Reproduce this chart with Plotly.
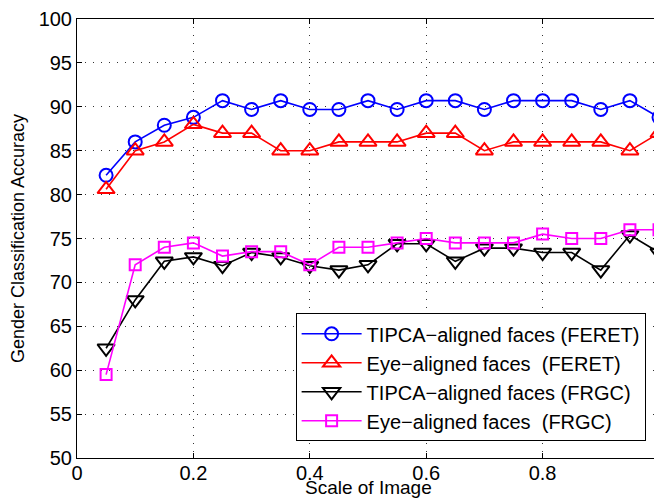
import plotly.graph_objects as go

scale = [0.05, 0.10, 0.15, 0.20, 0.25, 0.30, 0.35, 0.40, 0.45, 0.50,
         0.55, 0.60, 0.65, 0.70, 0.75, 0.80, 0.85, 0.90, 0.95, 1.00]

tipca_feret = [82.2, 86.0, 87.9, 88.8, 90.7, 89.7, 90.7, 89.7, 89.7, 90.7,
               89.7, 90.7, 90.7, 89.7, 90.7, 90.7, 90.7, 89.7, 90.7, 88.8]
eye_feret = [80.6, 85.0, 86.0, 88.0, 87.0, 87.0, 85.0, 85.0, 86.0, 86.0,
             86.0, 87.0, 87.0, 85.0, 86.0, 86.0, 86.0, 86.0, 85.0, 87.0]
tipca_frgc = [62.5, 68.0, 72.4, 72.9, 71.9, 73.4, 72.9, 71.9, 71.4, 72.0,
              74.4, 74.4, 72.4, 73.9, 73.9, 73.4, 73.4, 71.4, 75.4, 73.4]
eye_frgc = [59.5, 72.0, 74.0, 74.5, 73.0, 73.5, 73.5, 72.0, 74.0, 74.0,
            74.5, 75.0, 74.5, 74.5, 74.5, 75.5, 75.0, 75.0, 76.0, 76.0]

names = ["TIPCA\u2212aligned faces (FERET)",
         "Eye\u2212aligned faces  (FERET)",
         "TIPCA\u2212aligned faces (FRGC)",
         "Eye\u2212aligned faces  (FRGC)"]
colors = ["#0000ff", "#ff0000", "#000000", "#ff00ff"]
symbols = ["circle-open", "triangle-up-open", "triangle-down-open", "square-open"]
sizes = [13, 15, 15, 11]

FONT = "Liberation Sans, Arial, sans-serif"

fig = go.Figure()
for ys, nm, c, s, sz in zip([tipca_feret, eye_feret, tipca_frgc, eye_frgc],
                            names, colors, symbols, sizes):
    fig.add_trace(go.Scatter(
        x=scale, y=ys, name=nm, mode="lines+markers",
        line=dict(color=c, width=1.6),
        marker=dict(symbol=s, size=sz, color=c, line=dict(color=c, width=2)),
        cliponaxis=False,
    ))

axis_common = dict(
    showline=True, linecolor="black", linewidth=1, mirror="ticks",
    ticks="inside", ticklen=5, tickcolor="black",
    showgrid=True, gridcolor="#333333", griddash="1px,7px", gridwidth=1,
    zeroline=False, automargin=False, ticklabeloverflow="allow",
    tickfont=dict(family=FONT, size=20, color="black"),
)

fig.update_layout(
    width=654, height=491,
    margin=dict(l=69, r=3, t=11, b=41),
    paper_bgcolor="white", plot_bgcolor="white",
    font=dict(family=FONT, color="black"),
    xaxis=dict(range=[0, 1], tickvals=[0, 0.2, 0.4, 0.6, 0.8, 1],
               ticktext=["0", "0.2", "0.4", "0.6", "0.8", "1"],
               ticklabelstandoff=-3,
               **axis_common),
    yaxis=dict(range=[50, 100], tickvals=list(range(50, 101, 5)),
               title=dict(text="Gender Classification Accuracy", font=dict(size=18), standoff=9),
               **axis_common),
    legend=dict(x=0.977, y=0.038, xanchor="right", yanchor="bottom",
                bgcolor="white", bordercolor="black", borderwidth=1,
                font=dict(size=20, family=FONT),
                tracegroupgap=0, itemwidth=60),
    showlegend=True,
    annotations=[dict(text="Scale of Image", xref="paper", yref="paper",
                      x=0.5, y=0, xanchor="center", yanchor="bottom",
                      yshift=-41, showarrow=False, borderpad=0,
                      font=dict(size=19, family=FONT, color="black"))],
)

fig.write_html("out.html")
